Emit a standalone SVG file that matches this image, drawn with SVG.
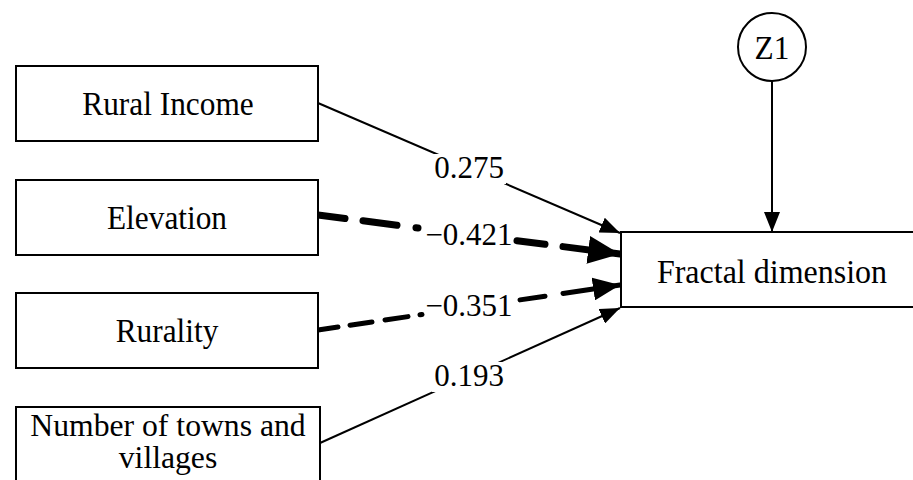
<svg xmlns="http://www.w3.org/2000/svg" width="913" height="480" viewBox="0 0 913 480">
<style>
.box{fill:#fff;stroke:#000;stroke-width:2}
.t{font-family:"Liberation Serif","Times New Roman",serif;font-size:33px;fill:#000;text-anchor:middle}
.n{font-family:"Liberation Serif","Times New Roman",serif;font-size:31px;fill:#000;text-anchor:middle}
.lbl{fill:#fff;stroke:none}
</style>
<defs>
<marker id="aThin" markerUnits="userSpaceOnUse" markerWidth="20" markerHeight="16" refX="20" refY="8" orient="auto"><path d="M0,0 L20,8 L0,16 Z" fill="#000"/></marker>
<marker id="aBig" markerUnits="userSpaceOnUse" markerWidth="32" markerHeight="28" refX="32" refY="14" orient="auto"><path d="M0,0 L32,14 L0,28 Z" fill="#000"/></marker>
<marker id="aMid" markerUnits="userSpaceOnUse" markerWidth="27" markerHeight="23" refX="27" refY="11.5" orient="auto"><path d="M0,0 L27,11.5 L0,23 Z" fill="#000"/></marker>
</defs>
<rect width="913" height="480" fill="#fff"/>
<g id="connectors" fill="none" stroke="#000">
<line x1="318" y1="103" x2="620" y2="233" stroke-width="2" marker-end="url(#aThin)"/>
<path d="M318,215 L345,218.5 M363,220.8 L397,225.2 M416,227.7 L418,227.9 M517,240.7 L545,244.3" stroke-width="7" stroke-linecap="round"/>
<line x1="563" y1="246.6" x2="620" y2="254" stroke-width="7" stroke-linecap="round" marker-end="url(#aBig)"/>
<path d="M318,330 L338,327 M350,325.2 L372,322 M385,320 L408,316.6 M420,314.8 L422,314.5 M520,299.9 L545,296.2" stroke-width="5" stroke-linecap="round"/>
<line x1="563" y1="293.5" x2="620" y2="285" stroke-width="5" stroke-linecap="round" marker-end="url(#aMid)"/>
<line x1="320" y1="443" x2="620" y2="308" stroke-width="2" marker-end="url(#aThin)"/>
<line x1="772" y1="81" x2="772" y2="232" stroke-width="2" marker-end="url(#aThin)"/>
</g>
<g id="labels">
<rect class="lbl" x="432" y="154" width="74" height="30"/>
<text class="n" x="469" y="178">0.275</text>
<text class="n" x="469" y="245">−0.421</text>
<text class="n" x="469" y="316">−0.351</text>
<rect class="lbl" x="432" y="362" width="74" height="30"/>
<text class="n" x="469" y="386">0.193</text>
</g>
<g id="rural-income"><rect class="box" x="16" y="66" width="302" height="75"/><text class="t" transform="matrix(0.95 0 0 1 168 115)">Rural Income</text></g>
<g id="elevation"><rect class="box" x="16" y="180" width="302" height="75"/><text class="t" transform="matrix(0.95 0 0 1 167 229)">Elevation</text></g>
<g id="rurality"><rect class="box" x="16" y="293" width="302" height="75"/><text class="t" transform="matrix(0.95 0 0 1 167 342)">Rurality</text></g>
<g id="towns"><rect class="box" x="16" y="407" width="304" height="80"/><text class="t" transform="matrix(0.99 0 0 1 168 436)" style="font-size:32px">Number of towns and</text><text class="t" transform="matrix(0.99 0 0 1 168 468)" style="font-size:32px">villages</text></g>
<g id="fractal"><rect class="box" x="621" y="232" width="300" height="75"/><text class="t" transform="matrix(0.97 0 0 1 772 283)">Fractal dimension</text></g>
<g id="z1"><circle cx="772" cy="47" r="34" fill="#fff" stroke="#000" stroke-width="2"/><text class="t" transform="matrix(0.95 0 0 1 772 59)">Z1</text></g>
</svg>
